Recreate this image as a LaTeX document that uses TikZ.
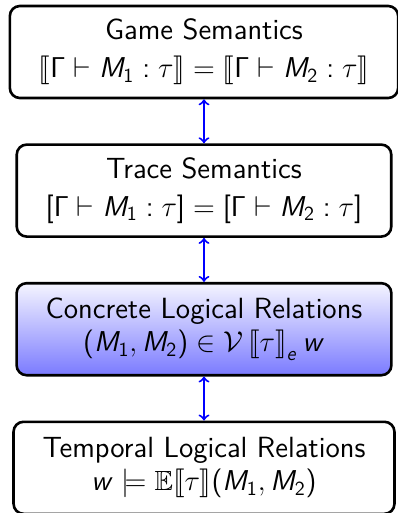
\documentclass[tikz,border=0pt]{standalone}
\usepackage{amsmath,amssymb,stmaryrd}
\usetikzlibrary{positioning}
\renewcommand{\familydefault}{\sfdefault}
% sans serif math, as on slides
\SetSymbolFont{operators}{normal}{OT1}{cmss}{m}{n}
\DeclareSymbolFont{sfitalics}{OT1}{cmss}{m}{sl}
\DeclareMathSymbol{M}{\mathalpha}{sfitalics}{`M}
\DeclareMathSymbol{w}{\mathalpha}{sfitalics}{`w}
\DeclareMathSymbol{e}{\mathalpha}{sfitalics}{`e}
\newcommand{\semline}[1]{{\fontsize{13.85bp}{16.5bp}\selectfont$#1$}}

\begin{document}
\begin{tikzpicture}[
  sembox/.style={rectangle,rounded corners=5bp,draw=black,line width=1.3bp,fill=white,
    minimum height=46bp,inner xsep=14.5bp,align=center,
    font=\fontsize{14.6bp}{16.5bp}\selectfont},
  focusbox/.style={sembox,top color=blue!4,bottom color=blue!52},
  equiv/.style={<->,blue,line width=1bp},
  node distance=22bp]
\useasboundingbox (0,0) rectangle (199bp,-256.5bp);
\node[sembox] (game) at (102bp,-26bp) {Game Semantics\\[2.5bp]
  \semline{\llbracket\Gamma\vdash M_1:\tau\rrbracket=\llbracket\Gamma\vdash M_2:\tau\rrbracket}};
\node[sembox,below=of game] (trace) {Trace Semantics\\[2.5bp]
  \semline{[\Gamma\vdash M_1:\tau]=[\Gamma\vdash M_2:\tau]}};
\node[focusbox,below=of trace] (concrete) {Concrete Logical Relations\\
  \semline{(M_1,M_2)\in\mathcal{V}\left\llbracket\tau\right\rrbracket_e w}};
\node[sembox,below=of concrete] (temporal) {Temporal Logical Relations\\
  \semline{w\models\mathbb{E}\llbracket\tau\rrbracket(M_1,M_2)}};
\draw[equiv] (game) -- (trace);
\draw[equiv] (trace) -- (concrete);
\draw[equiv] (concrete) -- (temporal);
\end{tikzpicture}
\end{document}
